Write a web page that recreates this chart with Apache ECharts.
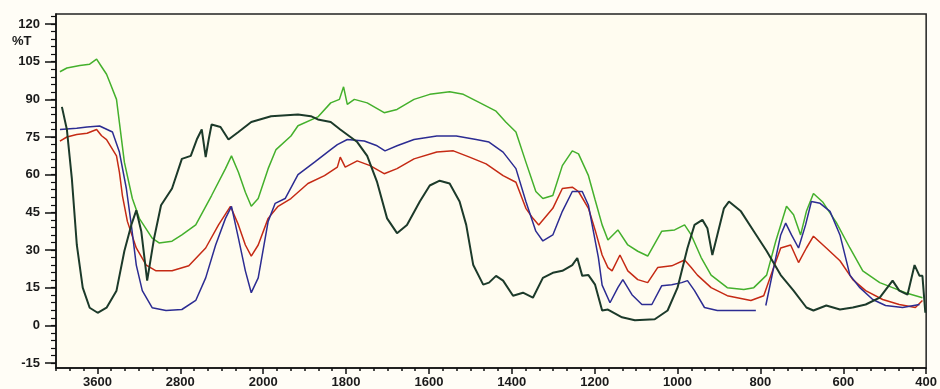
<!DOCTYPE html>
<html>
<head>
<meta charset="utf-8">
<script src="https://cdn.jsdelivr.net/npm/echarts@6/dist/echarts.min.js"></script>
<style>html,body{margin:0;padding:0;background:#fffdf6;}#chart{width:940px;height:389px;}</style>
</head>
<body>
<div id="chart"></div>
<script>
// Axis tick labels (evenly spaced on the original chart)
var xTickLabels = ['3600','2800','2000','1800','1600','1400','1200','1000','800','600','400'];
var xTickWavenumbers = [3600, 2800, 2000, 1800, 1600, 1400, 1200, 1000, 800, 600, 400];
var xStart = 4000;
var yTickLabels = [-15, 0, 15, 30, 45, 60, 75, 90, 105, 120];
var yAxisName = '%T';

// Series: [wavenumber, %T]
var greenSeries = [[3962,101],[3895,102.5],[3770,103.5],[3675,104],[3608,106],[3560,103],[3512,100],[3483,97],[3416,90],[3340,65],[3263,50.5],[3196,42.6],[3072,34.7],[3005,32.8],[2880,33.5],[2785,36],[2651,40],[2498,51.7],[2364,62.4],[2306,67.5],[2239,61],[2172,53],[2115,47.4],[2048,50.5],[1988,62.4],[1969,70],[1933,75.4],[1916,79.5],[1868,83],[1837,88.6],[1816,90],[1806,95],[1797,88],[1780,90],[1749,88.6],[1708,84.7],[1677,86],[1636,90],[1598,92],[1550,93],[1517,92],[1479,88.8],[1438,85.3],[1414,80.9],[1390,77],[1366,65],[1342,53.3],[1325,50.5],[1301,51.7],[1278,63.6],[1254,69.5],[1239,68.3],[1215,59.6],[1199,50],[1182,40],[1168,34],[1144,38],[1120,32],[1096,29.5],[1072,27.6],[1038,37.5],[1007,38],[983,40],[967,36],[943,27],[919,20],[880,15],[840,14.3],[816,15],[785,20],[763,33.5],[737,47.4],[720,44],[703,36],[689,45.4],[672,52.5],[649,49],[617,41],[584,30.8],[553,21.7],[512,17],[481,15],[450,13],[409,11]];

var redSeries = [[3962,73.4],[3895,75],[3800,76],[3700,76.5],[3608,78],[3560,75.5],[3512,74],[3416,67.5],[3388,61],[3359,51.7],[3311,41.4],[3225,30.8],[3129,24],[3034,21.7],[2880,21.7],[2718,23.7],[2555,30.8],[2431,40],[2316,47.4],[2239,40],[2172,32],[2115,27.6],[2048,32],[1988,42.6],[1964,47.4],[1933,50.5],[1892,56.5],[1852,59.6],[1821,63],[1814,67],[1802,63],[1773,65.5],[1742,63.6],[1708,60.4],[1677,62.4],[1636,66.3],[1581,69],[1541,69.5],[1502,67],[1462,64.3],[1421,59.6],[1390,57],[1366,46.6],[1349,42.6],[1335,40],[1301,46.6],[1278,54.5],[1254,55],[1239,53.3],[1215,46.6],[1199,38],[1182,28],[1168,23],[1158,21.7],[1139,28],[1120,21.7],[1096,18.2],[1072,17],[1048,23],[1014,23.7],[983,26],[967,23],[952,20],[919,15],[880,11.8],[823,9.9],[792,11.8],[768,23],[751,30.8],[727,32],[708,25],[689,30.8],[672,35.5],[641,30.8],[608,25.7],[577,18.2],[546,13.8],[505,10.3],[465,8.3],[426,7.1],[409,9.9]];

var blueSeries = [[3962,78],[3800,78.5],[3700,79],[3579,79.4],[3455,77],[3388,69],[3321,54.5],[3273,40],[3225,24],[3167,13.8],[3072,7],[2938,5.9],[2785,6.3],[2651,9.9],[2555,18.9],[2459,32],[2364,42.6],[2306,47.4],[2239,34.7],[2172,21.7],[2115,13],[2048,18.9],[1988,41.4],[1971,48.6],[1947,50.5],[1916,60],[1876,65],[1837,70],[1821,72],[1797,74],[1756,73.4],[1725,71.5],[1706,69.5],[1677,71.5],[1636,74],[1581,75.4],[1534,75.4],[1486,74],[1455,73],[1421,69],[1390,62.4],[1366,49.3],[1342,37.5],[1325,33.6],[1301,36],[1278,45.4],[1254,53.3],[1230,53.3],[1215,47.8],[1191,27],[1182,16],[1163,9],[1144,15],[1132,18.2],[1110,12.2],[1086,8.3],[1062,8.3],[1038,15.8],[1014,16.2],[990,17],[976,17.8],[959,13.8],[935,7.1],[904,5.9],[864,5.9],[811,5.9],[800,null],[787,7.9],[768,23],[751,36],[739,40.7],[725,36],[708,30.8],[691,40],[677,49.3],[656,48.6],[632,45.4],[608,36],[584,20],[560,15],[529,10.3],[498,7.9],[457,7.1],[416,8.3]];

var darkSeries = [[3943,87],[3895,78],[3847,58.4],[3799,32],[3742,15],[3675,7],[3598,5],[3512,7],[3416,13.8],[3340,29.6],[3273,40],[3225,45.8],[3177,37.5],[3120,17.8],[3053,34.7],[2986,47.8],[2880,54.5],[2785,66.3],[2699,67.5],[2641,74],[2593,78],[2555,67],[2526,74],[2498,80],[2412,79],[2335,74],[2239,77],[2115,81],[1981,83.3],[1916,84],[1885,83.3],[1868,82],[1837,81],[1814,78],[1773,73],[1749,67.5],[1725,57],[1701,42.6],[1677,36.7],[1653,40],[1622,49.3],[1598,55.7],[1574,57.6],[1550,56.5],[1526,49.3],[1510,40],[1493,24],[1469,16.2],[1455,17],[1438,19.7],[1421,17.8],[1397,11.8],[1373,13],[1349,11],[1325,18.9],[1301,20.9],[1278,21.7],[1254,24],[1242,26.8],[1230,19.7],[1215,20],[1199,16.2],[1182,5.9],[1168,6.3],[1134,3.2],[1103,2],[1055,2.4],[1024,5.9],[1000,15],[976,30.8],[959,40],[940,42],[928,38.7],[916,28],[904,36],[888,46.6],[876,49.3],[847,45.4],[816,37.5],[785,29.6],[751,20],[720,13.8],[689,7.1],[672,5.9],[641,7.9],[608,6.3],[577,7.1],[546,8.3],[512,11],[481,17.8],[465,13.8],[445,12.2],[428,24],[416,19.7],[409,19.7],[402,5]];

// piecewise mapping of wavenumber onto the evenly spaced tick positions
var breakWn = [xStart].concat(xTickWavenumbers);
var breakPos = [-(xStart - xTickWavenumbers[0]) / (xTickWavenumbers[0] - xTickWavenumbers[1])];
for (var i = 0; i < xTickWavenumbers.length; i++) breakPos.push(i);
function toPos(wn) {
  for (var i = 0; i < breakWn.length - 1; i++) {
    var a = breakWn[i], b = breakWn[i + 1];
    if (wn <= a && wn >= b) return breakPos[i] + (a - wn) / (a - b) * (breakPos[i + 1] - breakPos[i]);
  }
  return wn > breakWn[0] ? breakPos[0] : breakPos[breakPos.length - 1];
}
function conv(arr) { return arr.map(function (d) { return [toPos(d[0]), d[1]]; }); }

var xMajor = xTickLabels.map(function (_, i) { return i; });
var xMinor = [];
for (var k = -3; k <= 6 * (xTickLabels.length - 1); k++) xMinor.push(k / 6);
var yMinor = [];
for (var v = -15; v <= 123; v += 3) yMinor.push(v);

var labelFont = { fontFamily: 'Liberation Sans, Arial, sans-serif', fontWeight: 'bold', fontSize: 13, color: '#1a1a1a' };

var chart = echarts.init(document.getElementById('chart'), null, { renderer: 'canvas' });
chart.setOption({
  backgroundColor: '#fffdf6',
  animation: false,
  grid: { left: 56, right: 6, top: 14, bottom: 18, show: true, borderColor: '#222', borderWidth: 1.5, backgroundColor: '#fffcf0' },
  graphic: [{ type: 'text', left: 12, top: 35, style: { text: yAxisName, font: 'bold 13px Liberation Sans, Arial, sans-serif', fill: '#1a1a1a' } }],
  xAxis: [{
    type: 'value', min: breakPos[0], max: xTickLabels.length - 1,
    axisLine: { onZero: false, lineStyle: { color: '#111', width: 1.5 } },
    axisTick: { show: true, customValues: xMajor, length: 6, lineStyle: { color: '#111', width: 1.5 } },
    axisLabel: Object.assign({ customValues: xMajor, margin: 8, alignMaxLabel: 'center', hideOverlap: false, formatter: function (val) { return xTickLabels[Math.round(val)]; } }, labelFont),
    splitLine: { show: false }
  }, {
    type: 'value', min: breakPos[0], max: xTickLabels.length - 1, position: 'bottom',
    axisLine: { show: false, onZero: false },
    axisTick: { show: true, customValues: xMinor, length: 3, lineStyle: { color: '#111', width: 1.5 } },
    axisLabel: { show: false }, splitLine: { show: false }
  }],
  yAxis: [{
    type: 'value', min: -17, max: 124,
    axisLine: { show: true, onZero: false, lineStyle: { color: '#111', width: 1.5 } },
    axisTick: { show: true, customValues: yTickLabels, length: 11, lineStyle: { color: '#111', width: 1.5 } },
    axisLabel: Object.assign({ customValues: yTickLabels, margin: 16 }, labelFont),
    splitLine: { show: false }
  }, {
    type: 'value', min: -17, max: 124, position: 'left',
    axisLine: { show: false, onZero: false },
    axisTick: { show: true, customValues: yMinor, length: 5, lineStyle: { color: '#111', width: 1.2 } },
    axisLabel: { show: false }, splitLine: { show: false }
  }],
  series: [
    { name: 'green', type: 'line', data: conv(greenSeries), showSymbol: false, lineStyle: { color: '#44b02c', width: 1.5 }, xAxisIndex: 0, yAxisIndex: 0 },
    { name: 'red', type: 'line', data: conv(redSeries), showSymbol: false, lineStyle: { color: '#c52a14', width: 1.5 }, xAxisIndex: 0, yAxisIndex: 0 },
    { name: 'blue', type: 'line', data: conv(blueSeries), showSymbol: false, lineStyle: { color: '#2c2c92', width: 1.5 }, xAxisIndex: 0, yAxisIndex: 0 },
    { name: 'dark', type: 'line', data: conv(darkSeries), showSymbol: false, lineStyle: { color: '#1c3a2a', width: 2 }, xAxisIndex: 0, yAxisIndex: 0 }
  ]
});
</script>
</body>
</html>
